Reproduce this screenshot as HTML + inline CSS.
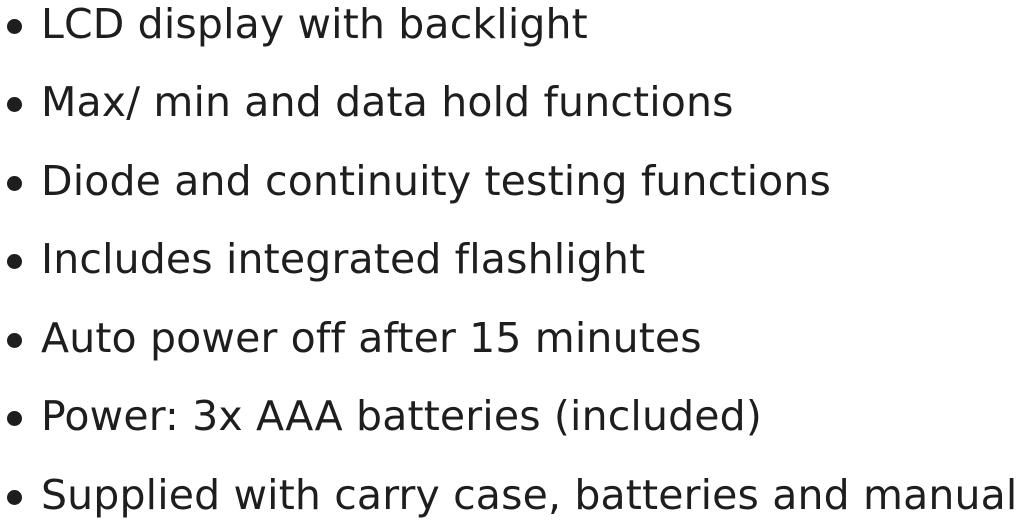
<!DOCTYPE html>
<html><head><meta charset="utf-8"><style>
html,body{margin:0;padding:0;background:#fff;width:1023px;height:526px;overflow:hidden}
.l{position:absolute;left:41px;font-family:"DejaVu Sans","Liberation Sans",sans-serif;font-size:41px;line-height:1;color:#1e1e1e;white-space:nowrap;letter-spacing:0.15px;font-variant-ligatures:none;font-feature-settings:"liga" 0,"clig" 0}
.b{position:absolute;left:7px;width:15px;height:15px;border-radius:50%;background:#1e1e1e}
</style></head><body>
<div class="b" style="top:19px"></div><div class="l" style="top:4px">LCD display with backlight</div>
<div class="b" style="top:97px"></div><div class="l" style="top:82px">Max/ min and data hold functions</div>
<div class="b" style="top:176px"></div><div class="l" style="top:161px">Diode and continuity testing functions</div>
<div class="b" style="top:254px"></div><div class="l" style="top:239px">Includes integrated flashlight</div>
<div class="b" style="top:333px"></div><div class="l" style="top:318px">Auto power off after 15 minutes</div>
<div class="b" style="top:411px"></div><div class="l" style="top:396px">Power: 3x AAA batteries (included)</div>
<div class="b" style="top:490px"></div><div class="l" style="top:475px">Supplied with carry case, batteries and manual</div>
</body></html>
